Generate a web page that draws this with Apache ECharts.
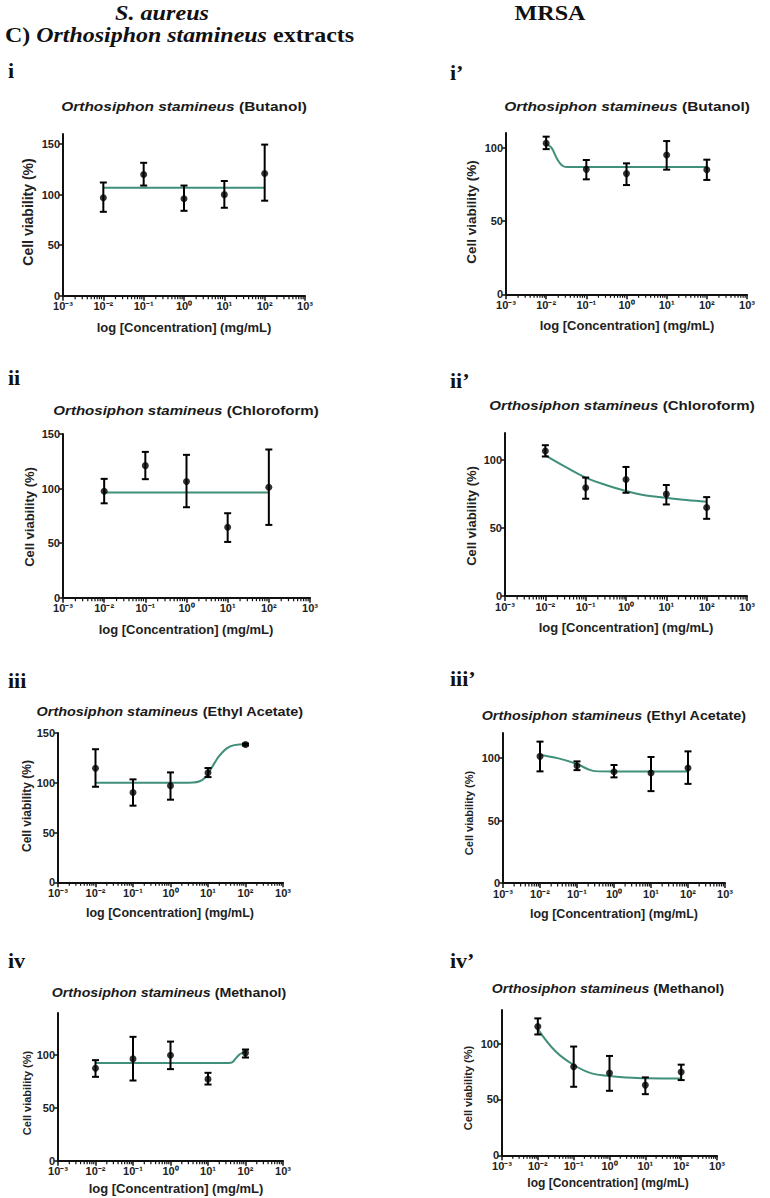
<!DOCTYPE html>
<html><head><meta charset="utf-8">
<script src="https://cdn.jsdelivr.net/npm/echarts@6/dist/echarts.min.js"></script>
<style>html,body{margin:0;padding:0;background:#fff}#c{width:770px;height:1198px}</style>
</head><body><div id="c"></div><script>
// ---------- data ----------
const conc = [0.01, 0.1, 1, 10, 100];
const xTickLabels = ['10⁻³','10⁻²','10⁻¹','10⁰','10¹','10²','10³'];
const xTickExponents = [-3,-2,-1,0,1,2,3];
const yTicks150 = [0,50,100,150];
const yTicks100 = [0,50,100];
const solvents = ['Butanol','Chloroform','Ethyl Acetate','Methanol'];
const panelLabels = ['i','i’','ii','ii’','iii','iii’','iv','iv’'];

// S. aureus – Butanol
const saButMean = [97,120,96,100,121];
const saButLow  = [83,109,84,87,94];
const saButHigh = [112,131.5,109,113.5,149.5];
const saButFitX = [0.01,100];
const saButFitY = [106.7,106.7];
// MRSA – Butanol
const mrButMean = [103,85.2,82.3,95,85];
const mrButLow  = [99,78.4,74.5,85,78];
const mrButHigh = [107.5,91.6,89.3,104.5,91.8];
const mrButFitX = [0.01,0.0135,0.019,0.026,0.035,0.1,1,10,100];
const mrButFitY = [102.5,100,92,87.5,86.8,86.8,86.8,86.8,86.8];
// S. aureus – Chloroform
const saChlMean = [97.6,121,106.4,64.5,101.2];
const saChlLow  = [86.5,108.6,82.9,51.1,66.7];
const saChlHigh = [108.9,133.6,130.9,77.4,135.8];
const saChlFitX = [0.01,100];
const saChlFitY = [96.3,96.3];
// MRSA – Chloroform
const mrChlMean = [106.7,79.7,85.7,75,65.2];
const mrChlLow  = [102.7,71.6,76,67.4,56.8];
const mrChlHigh = [111,87.2,95,81.7,72.8];
const mrChlFitX = [0.01,0.0316,0.1,0.316,1,3.16,10,31.6,100];
const mrChlFitY = [103.5,95,87.2,81.7,77.3,74,72.3,70.6,69.4];
// S. aureus – Ethyl acetate
const saEaMean = [114.5,90.2,97,110,138.4];
const saEaLow  = [96,77,83,105.7,137.4];
const saEaHigh = [133.7,103.4,110.4,114.8,139.4];
const saEaFitX = [0.01,0.1,1,4,6,8,10,15,20,31.6,50,100];
const saEaFitY = [100,100,100,100.3,101.5,104.5,109,120,127,134.5,137.8,138.8];
// MRSA – Ethyl acetate
const mrEaMean = [101.3,93.8,89,88,92];
const mrEaLow  = [89.3,90.3,84.5,73.5,79.3];
const mrEaHigh = [113.1,97.3,94.4,100.8,105.3];
const mrEaFitX = [0.01,0.0316,0.1,0.2,0.3,1,10,100];
const mrEaFitY = [102.4,99.7,95.2,91,89.5,89.2,89.2,89.2];
// S. aureus – Methanol
const saMeMean = [87.7,96.5,100,77.3,102.2];
const saMeLow  = [79.5,76,86.8,72.2,97.8];
const saMeHigh = [95.3,117.4,112.9,83.3,105.4];
const saMeFitX = [0.01,0.1,1,10,35,45,55,68,82,100];
const saMeFitY = [92.7,92.7,92.7,92.7,92.7,93.5,97,100.5,102.2,103];
// MRSA – Methanol
const mrMeMean = [115.3,79.3,73.6,62.8,74.5];
const mrMeLow  = [108.1,61.3,57.7,54.7,67.3];
const mrMeHigh = [122.5,97.3,88.9,69.7,81.1];
const mrMeFitX = [0.01,0.0316,0.1,0.316,1,3.16,10,31.6,100];
const mrMeFitY = [112.9,92.8,80.8,73.3,70.9,69.6,68.9,68.8,68.8];

const panelData = [
  [saButMean,saButLow,saButHigh,saButFitX,saButFitY],
  [mrButMean,mrButLow,mrButHigh,mrButFitX,mrButFitY],
  [saChlMean,saChlLow,saChlHigh,saChlFitX,saChlFitY],
  [mrChlMean,mrChlLow,mrChlHigh,mrChlFitX,mrChlFitY],
  [saEaMean,saEaLow,saEaHigh,saEaFitX,saEaFitY],
  [mrEaMean,mrEaLow,mrEaHigh,mrEaFitX,mrEaFitY],
  [saMeMean,saMeLow,saMeHigh,saMeFitX,saMeFitY],
  [mrMeMean,mrMeLow,mrMeHigh,mrMeFitX,mrMeFitY]
];
const yMaxes = [160,110,150,120,150,120,140,130];
const yTickSets = [yTicks150,yTicks100,yTicks150,yTicks100,yTicks150,yTicks100,yTicks100,yTicks100];

// ---------- layout ----------
const layout = [
  {g:[63,134,242,161.7], title:[184,106], ts:1.19, lab:[8,70],   yName:[28,212],  yf:14,   xName:[184,327],  xf:13},
  {g:[506,133,241,161.3],title:[627,106], ts:1.19, lab:[450,72], yName:[471,212], yf:13.5, xName:[627,325],  xf:13},
  {g:[63,434,247,163.7], title:[186,410], ts:1.16, lab:[8,377],  yName:[29,517],  yf:13,   xName:[186,629],  xf:13},
  {g:[505,433,242,163],  title:[622,405], ts:1.16, lab:[450,380],yName:[471,516], yf:13,   xName:[626,627],  xf:13},
  {g:[58,733,225,149.3], title:[170,712], ts:1.11, lab:[8,680],  yName:[27,806],  yf:12,   xName:[170,913],  xf:12.5},
  {g:[503,733,222,150],  title:[614,716], ts:1.10, lab:[450,678],yName:[469,813], yf:11,   xName:[614,914],  xf:12.5},
  {g:[58,1013,225,147.7],title:[169,993], ts:1.09, lab:[8,960],  yName:[27,1093], yf:11,   xName:[176,1188], xf:13},
  {g:[502,1010,215,145.3],title:[608,989],ts:1.08, lab:[450,960],yName:[468,1088],yf:11,   xName:[608,1183], xf:12}
];

const SANS = '"Liberation Sans", Arial, sans-serif';
const SERIF = '"Liberation Serif", "Times New Roman", serif';
const FIT = '#3f8f7b';
const minorTickValues = [];
for (let k=-3;k<3;k++) for (let m=2;m<10;m++) minorTickValues.push([+(m*Math.pow(10,k)).toPrecision(3)]);

function errRender(params, api){
  const x = api.value(0), lo = api.value(1), hi = api.value(2);
  const t = api.coord([x,hi]), b = api.coord([x,lo]);
  const cw = 3.5, st = {stroke:'#000', lineWidth:2};
  return {type:'group', children:[
    {type:'line', shape:{x1:t[0],y1:t[1],x2:b[0],y2:b[1]}, style:st},
    {type:'line', shape:{x1:t[0]-cw,y1:t[1],x2:t[0]+cw,y2:t[1]}, style:st},
    {type:'line', shape:{x1:b[0]-cw,y1:b[1],x2:b[0]+cw,y2:b[1]}, style:st}
  ]};
}
function minorRender(params, api){
  const p = api.coord([api.value(0), 0]);
  return {type:'line', shape:{x1:p[0], y1:p[1]+1, x2:p[0], y2:p[1]+3.5}, style:{stroke:'#111', lineWidth:1.2}};
}

const grids=[], xAxes=[], yAxes=[], series=[], graphics=[];
layout.forEach((L,i)=>{
  grids.push({left:L.g[0], top:L.g[1], width:L.g[2], height:L.g[3], containLabel:false});
  xAxes.push({type:'log', logBase:10, gridIndex:i, min:0.001, max:1000,
    axisLine:{show:true, onZero:false, lineStyle:{color:'#111', width:2}},
    axisTick:{show:true, length:5, lineStyle:{color:'#111', width:1.5}},
    splitLine:{show:false}, minorTick:{show:false},
    axisLabel:{fontFamily:SANS, fontWeight:'bold', fontSize:11, color:'#222', margin:5,
      formatter:v=>xTickLabels[xTickExponents.indexOf(Math.round(Math.log10(v)))]}
  });
  yAxes.push({type:'value', gridIndex:i, min:0, max:yMaxes[i],
    axisLine:{show:true, onZero:false, lineStyle:{color:'#111', width:2}},
    axisTick:{show:true, length:4, customValues:yTickSets[i], lineStyle:{color:'#111', width:1.5}},
    splitLine:{show:false},
    axisLabel:{fontFamily:SANS, fontWeight:'bold', fontSize:11, color:'#222', margin:3, customValues:yTickSets[i]}
  });
  const [mean,low,high,fx,fy] = panelData[i];
  series.push({type:'custom', xAxisIndex:i, yAxisIndex:i, renderItem:minorRender, clip:false,
    encode:{x:0}, data:minorTickValues, z:1, silent:true});
  series.push({type:'line', xAxisIndex:i, yAxisIndex:i, data:fx.map((x,j)=>[x,fy[j]]),
    smooth:0.4, showSymbol:false, symbol:'none', lineStyle:{color:FIT, width:2}, z:2, silent:true});
  series.push({type:'custom', xAxisIndex:i, yAxisIndex:i, renderItem:errRender,
    encode:{x:0, y:[1,2]}, data:conc.map((c,j)=>[c,low[j],high[j]]), z:3, silent:true});
  series.push({type:'scatter', xAxisIndex:i, yAxisIndex:i, data:conc.map((c,j)=>[c,mean[j]]),
    symbol:'circle', symbolSize:7, itemStyle:{color:'#000'}, z:4, silent:true});

  graphics.push({type:'text', x:L.title[0], y:L.title[1], scaleX:L.ts, style:{
    text:'{a|Orthosiphon stamineus}{b| ('+solvents[Math.floor(i/2)]+')}', align:'center', verticalAlign:'middle',
    rich:{a:{fontFamily:SANS, fontSize:13, fontWeight:'bold', fontStyle:'italic', fill:'#1a1a1a'},
          b:{fontFamily:SANS, fontSize:13, fontWeight:'bold', fill:'#1a1a1a'}}}});
  graphics.push({type:'text', x:L.lab[0], y:L.lab[1], style:{text:panelLabels[i], fontFamily:SERIF,
    fontSize:22, fontWeight:'bold', fill:'#111', align:'left', verticalAlign:'middle'}});
  graphics.push({type:'text', x:L.yName[0], y:L.yName[1], rotation:Math.PI/2, style:{text:'Cell viability (%)',
    fontFamily:SANS, fontSize:L.yf, fontWeight:'bold', fill:'#222', align:'center', verticalAlign:'middle'}});
  graphics.push({type:'text', x:L.xName[0], y:L.xName[1], style:{text:'log [Concentration] (mg/mL)',
    fontFamily:SANS, fontSize:L.xf, fontWeight:'bold', fill:'#222', align:'center', verticalAlign:'middle'}});
});

graphics.push({type:'text', x:162, y:13, scaleX:1.15, style:{text:'S. aureus', fontFamily:SERIF, fontSize:21,
  fontWeight:'bold', fontStyle:'italic', fill:'#111', align:'center', verticalAlign:'middle'}});
graphics.push({type:'text', x:550, y:13, scaleX:1.15, style:{text:'MRSA', fontFamily:SERIF, fontSize:21,
  fontWeight:'bold', fill:'#111', align:'center', verticalAlign:'middle'}});
graphics.push({type:'text', x:5, y:35, scaleX:1.14, style:{text:'{n|C) }{a|Orthosiphon stamineus}{n| extracts}',
  align:'left', verticalAlign:'middle',
  rich:{n:{fontFamily:SERIF, fontSize:21, fontWeight:'bold', fill:'#111'},
        a:{fontFamily:SERIF, fontSize:21, fontWeight:'bold', fontStyle:'italic', fill:'#111'}}}});

const chart = echarts.init(document.getElementById('c'), null, {renderer:'svg'});
chart.setOption({animation:false, backgroundColor:'#fff', grid:grids, xAxis:xAxes, yAxis:yAxes,
  series:series, graphic:{elements:graphics}});
</script></body></html>
